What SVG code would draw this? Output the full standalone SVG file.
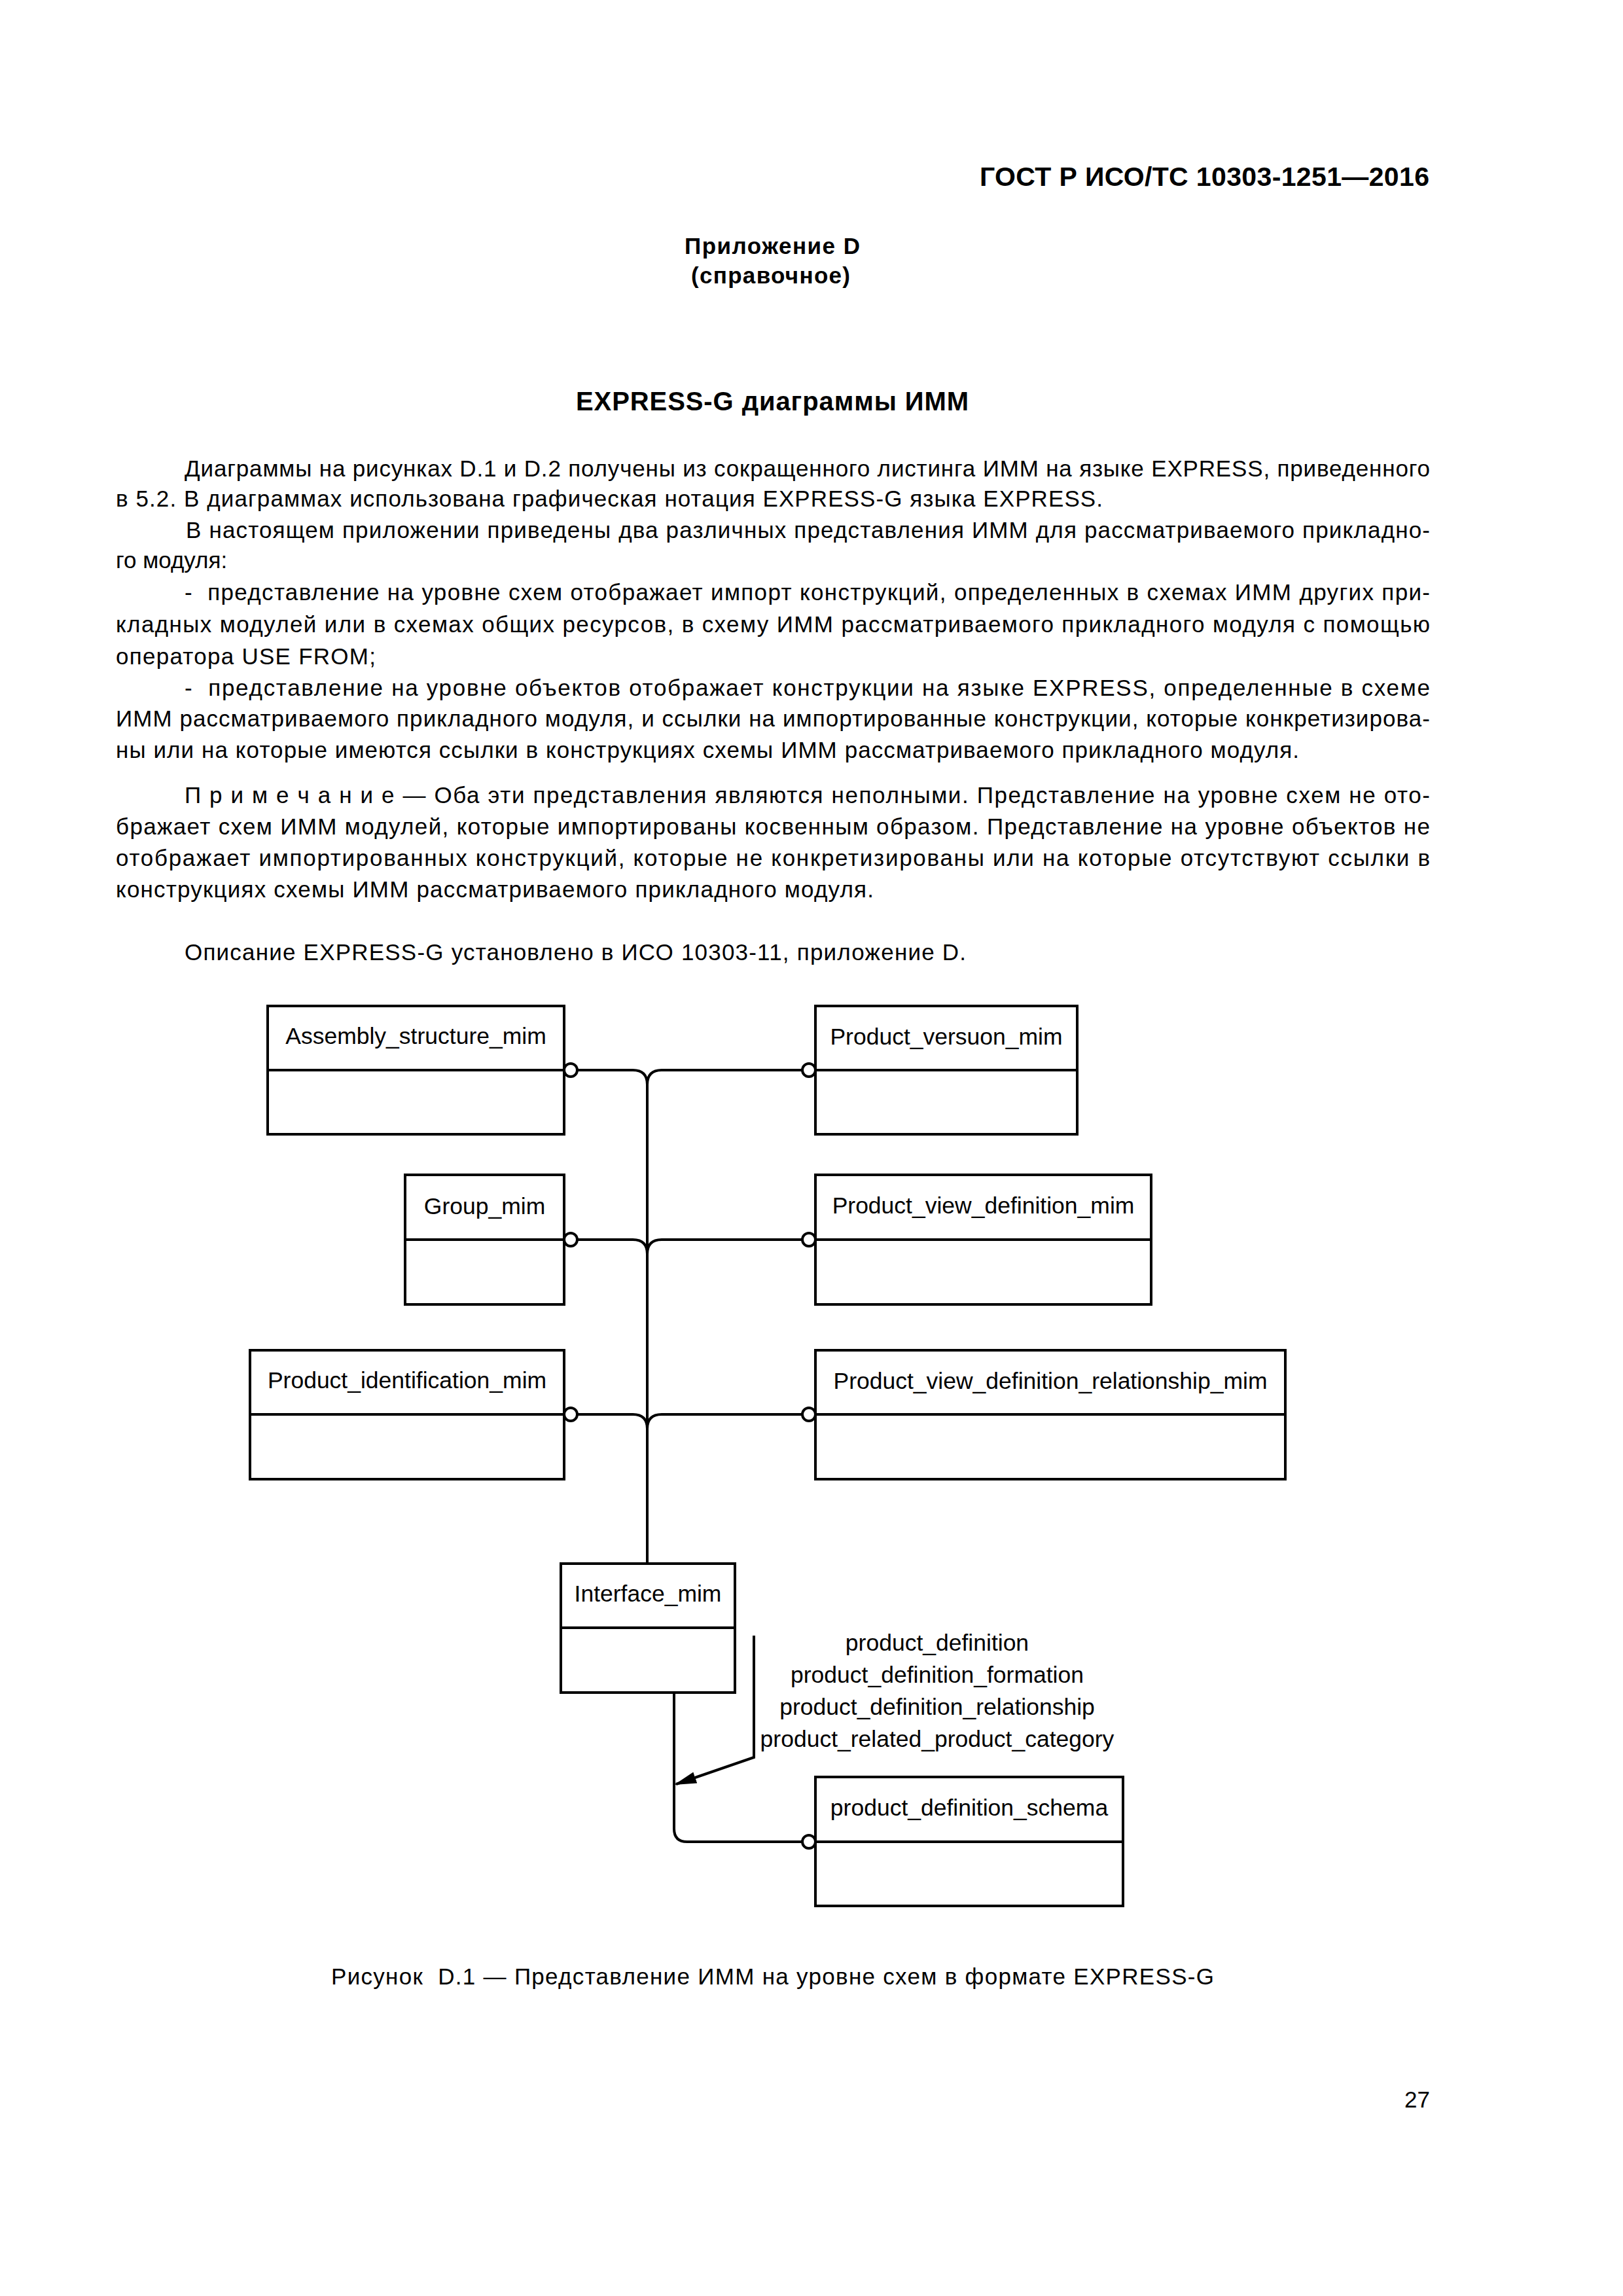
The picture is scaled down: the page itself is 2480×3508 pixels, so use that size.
<svg xmlns="http://www.w3.org/2000/svg" width="2480" height="3508" viewBox="0 0 2480 3508">
<style>
text{font-family:"Liberation Sans",Arial,sans-serif;fill:#000}
.body{font-size:35px}
.bold{font-weight:bold}
.lbl{font-size:35.5px;text-anchor:middle}
.box{fill:#fff;stroke:#000;stroke-width:4}
.div{stroke:#000;stroke-width:4}
.ln{fill:none;stroke:#000;stroke-width:4}
.dot{fill:#fff;stroke:#000;stroke-width:4}
</style>
<defs>
<marker id="arr" markerUnits="userSpaceOnUse" markerWidth="34" markerHeight="20" viewBox="0 0 34 20" refX="31" refY="10" orient="auto">
<path d="M0,1 L34,10 L0,19 z" fill="#000"/>
</marker>
</defs>
<rect width="2480" height="3508" fill="#fff"/>

<g id="page-text">
<text class="bold" x="1497" y="284" font-size="41" textLength="687">ГОСТ Р ИСО/ТС 10303-1251—2016</text>
<text class="body bold" x="1046" y="388" textLength="268">Приложение D</text>
<text class="body bold" x="1056" y="433" textLength="243">(справочное)</text>
<text class="bold" x="880" y="627" font-size="40" textLength="600">EXPRESS-G диаграммы ИММ</text>

<text class="body" x="282" y="728" textLength="1903">Диаграммы на рисунках D.1 и D.2 получены из сокращенного листинга ИММ на языке EXPRESS, приведенного</text>
<text class="body" x="177" y="774" textLength="1508">в 5.2. В диаграммах использована графическая нотация EXPRESS-G языка EXPRESS.</text>
<text class="body" x="284" y="822" textLength="1901">В настоящем приложении приведены два различных представления ИММ для рассматриваемого прикладно-</text>
<text class="body" x="177" y="868">го модуля:</text>
<text class="body" x="282" y="917" textLength="1903" xml:space="preserve">-  представление на уровне схем отображает импорт конструкций, определенных в схемах ИММ других при-</text>
<text class="body" x="177" y="966" textLength="2008">кладных модулей или в схемах общих ресурсов, в схему ИММ рассматриваемого прикладного модуля с помощью</text>
<text class="body" x="177" y="1015" textLength="397">оператора USE FROM;</text>
<text class="body" x="282" y="1063" textLength="1903" xml:space="preserve">-  представление на уровне объектов отображает конструкции на языке EXPRESS, определенные в схеме</text>
<text class="body" x="177" y="1110" textLength="2008">ИММ рассматриваемого прикладного модуля, и ссылки на импортированные конструкции, которые конкретизирова-</text>
<text class="body" x="177" y="1158" textLength="1808">ны или на которые имеются ссылки в конструкциях схемы ИММ рассматриваемого прикладного модуля.</text>

<text class="body" x="282" y="1227" textLength="1903">П р и м е ч а н и е — Оба эти представления являются неполными. Представление на уровне схем не ото-</text>
<text class="body" x="177" y="1275" textLength="2008">бражает схем ИММ модулей, которые импортированы косвенным образом. Представление на уровне объектов не</text>
<text class="body" x="177" y="1323" textLength="2008">отображает импортированных конструкций, которые не конкретизированы или на которые отсутствуют ссылки в</text>
<text class="body" x="177" y="1371" textLength="1158">конструкциях схемы ИММ рассматриваемого прикладного модуля.</text>

<text class="body" x="282" y="1467" textLength="1194">Описание EXPRESS-G установлено в ИСО 10303-11, приложение D.</text>

<text class="body" x="506" y="3032" textLength="1349" xml:space="preserve">Рисунок  D.1 — Представление ИММ на уровне схем в формате EXPRESS-G</text>
<text class="body" x="2185" y="3220" text-anchor="end">27</text>
</g>

<g id="connectors">
<path class="ln" d="M989,1657 V2389"/>
<path class="ln" d="M882,1635 H967 Q989,1635 989,1657"/>
<path class="ln" d="M989,1657 Q989,1635 1011,1635 H1226"/>
<path class="ln" d="M882,1894 H967 Q989,1894 989,1916"/>
<path class="ln" d="M989,1916 Q989,1894 1011,1894 H1226"/>
<path class="ln" d="M882,2161 H967 Q989,2161 989,2183"/>
<path class="ln" d="M989,2183 Q989,2161 1011,2161 H1226"/>
<path class="ln" d="M1030,2586 V2794 Q1030,2814 1050,2814 H1225"/>
<path class="ln" d="M1152,2499 V2685 L1033,2726" marker-end="url(#arr)"/>
<circle class="dot" cx="872" cy="1635" r="10"/>
<circle class="dot" cx="1236" cy="1635" r="10"/>
<circle class="dot" cx="872" cy="1894" r="10"/>
<circle class="dot" cx="1236" cy="1894" r="10"/>
<circle class="dot" cx="872" cy="2161" r="10"/>
<circle class="dot" cx="1236" cy="2161" r="10"/>
<circle class="dot" cx="1236" cy="2814" r="10"/>
<g id="connector-label">
<text class="lbl" x="1432" y="2522">product_definition</text>
<text class="lbl" x="1432" y="2571">product_definition_formation</text>
<text class="lbl" x="1432" y="2620">product_definition_relationship</text>
<text class="lbl" x="1432" y="2669">product_related_product_category</text>
</g>
</g>

<g id="Assembly_structure_mim">
<rect class="box" x="409" y="1537" width="453" height="196"/>
<line class="div" x1="409" y1="1635" x2="862" y2="1635"/>
<text class="lbl" x="635.5" y="1595">Assembly_structure_mim</text>
</g>
<g id="Product_versuon_mim">
<rect class="box" x="1246" y="1537" width="400" height="196"/>
<line class="div" x1="1246" y1="1635" x2="1646" y2="1635"/>
<text class="lbl" x="1446" y="1596">Product_versuon_mim</text>
</g>
<g id="Group_mim">
<rect class="box" x="619" y="1795" width="243" height="198"/>
<line class="div" x1="619" y1="1894" x2="862" y2="1894"/>
<text class="lbl" x="740.5" y="1855">Group_mim</text>
</g>
<g id="Product_view_definition_mim">
<rect class="box" x="1246" y="1795" width="513" height="198"/>
<line class="div" x1="1246" y1="1894" x2="1759" y2="1894"/>
<text class="lbl" x="1502.5" y="1854">Product_view_definition_mim</text>
</g>
<g id="Product_identification_mim">
<rect class="box" x="382" y="2063" width="480" height="197"/>
<line class="div" x1="382" y1="2161" x2="862" y2="2161"/>
<text class="lbl" x="622" y="2121">Product_identification_mim</text>
</g>
<g id="Product_view_definition_relationship_mim">
<rect class="box" x="1246" y="2063" width="718" height="197"/>
<line class="div" x1="1246" y1="2161" x2="1964" y2="2161"/>
<text class="lbl" x="1605" y="2122">Product_view_definition_relationship_mim</text>
</g>
<g id="Interface_mim">
<rect class="box" x="857" y="2389" width="266" height="197"/>
<line class="div" x1="857" y1="2487" x2="1123" y2="2487"/>
<text class="lbl" x="990" y="2447">Interface_mim</text>
</g>
<g id="product_definition_schema">
<rect class="box" x="1246" y="2715" width="470" height="197"/>
<line class="div" x1="1246" y1="2814" x2="1716" y2="2814"/>
<text class="lbl" x="1481" y="2774">product_definition_schema</text>
</g>
</svg>
